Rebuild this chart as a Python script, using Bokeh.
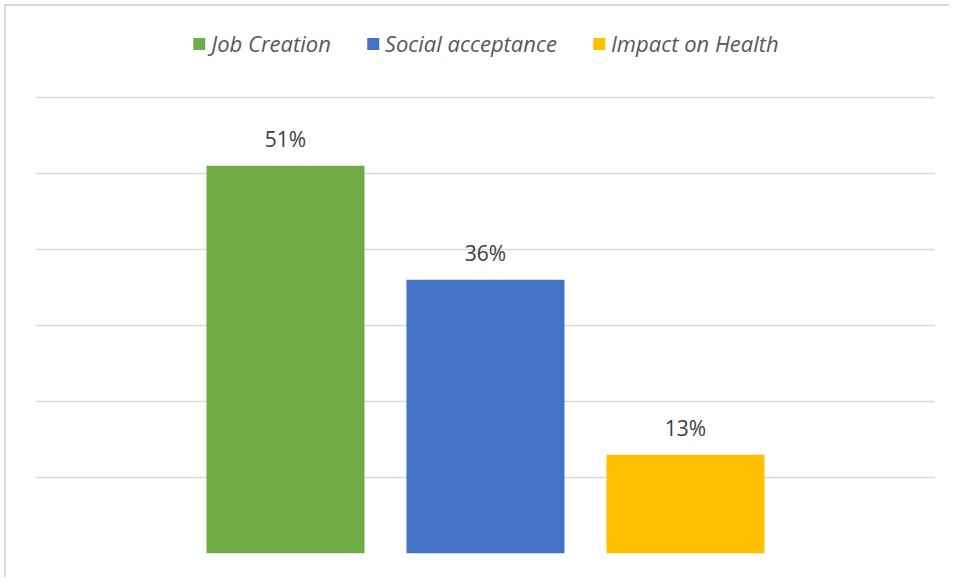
from bokeh.plotting import figure
from bokeh.models import ColumnDataSource, FactorRange, Range1d, Legend, LegendItem, FixedTicker
from bokeh.core.properties import value
from bokeh.embed import file_html
from bokeh.resources import INLINE

categories = ["Job Creation", "Social acceptance", "Impact on Health"]
values = [51, 36, 13]
labels = ["51%", "36%", "13%"]
colors = ["#70AD47", "#4472C4", "#FFC000"]
grid_ticks = [0, 10, 20, 30, 40, 50, 60]

src = ColumnDataSource(dict(cat=categories, val=values, lab=labels, col=colors))

W, H = 945, 573
p = figure(width=W, height=H, output_backend="svg", toolbar_location=None,
           x_range=FactorRange(*categories, range_padding=0.5),
           y_range=Range1d(0, 71.3),
           min_border_left=29, min_border_right=16, min_border_top=5, min_border_bottom=26,
           styles={"border-top": "2px solid #d9d9d9", "border-left": "2px solid #d9d9d9",
                   "margin-left": "4px", "margin-top": "4px"})
p.outline_line_color = None
p.xaxis.visible = False
p.yaxis.visible = False
p.xgrid.grid_line_color = None
p.ygrid.ticker = FixedTicker(ticks=grid_ticks)
p.ygrid.grid_line_color = "#d9d9d9"
p.ygrid.grid_line_width = 1.5

bars = []
for i, c in enumerate(categories):
    s = ColumnDataSource(dict(cat=[c], val=[values[i]]))
    r = p.vbar(x="cat", top="val", width=0.79, source=s, fill_color=colors[i], line_color=None)
    bars.append(r)

p.text(x="cat", y="val", text="lab", source=src, text_align="center", text_baseline="alphabetic",
       y_offset=-27, text_font=value("Open Sans"), text_font_size="21px", text_color="#404040")

legend = Legend(items=[LegendItem(label=categories[i], renderers=[bars[i]]) for i in range(3)],
                orientation="horizontal", location="top_center",
                glyph_width=15, glyph_height=15, label_standoff=5, spacing=34,
                label_text_font="Open Sans", label_text_font_style="italic",
                label_text_font_size="22px", label_text_color="#595959",
                label_height=20, margin=17, padding=10,
                border_line_color=None, background_fill_alpha=0)
p.add_layout(legend)

open("out.html", "w").write(file_html(p, INLINE))
